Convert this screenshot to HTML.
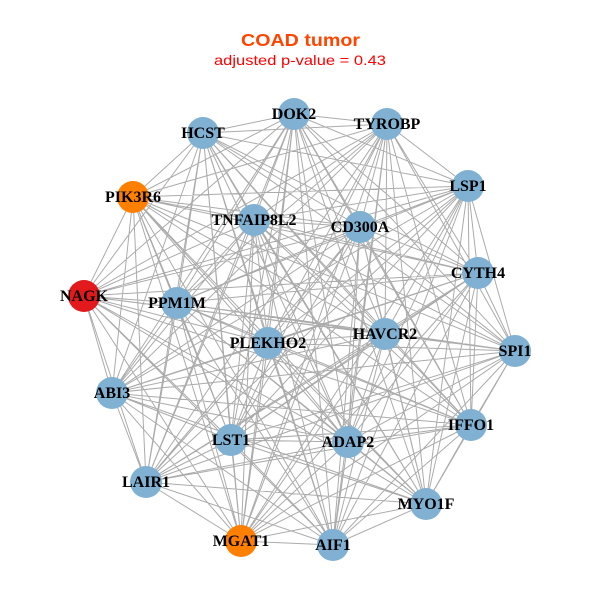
<!DOCTYPE html>
<html><head><meta charset="utf-8"><style>
html,body{margin:0;padding:0;background:#fff;}
svg{display:block;}
.l{font-family:"Liberation Serif",serif;font-weight:bold;font-size:16px;fill:#000;text-anchor:middle;}
</style></head><body>
<svg width="600" height="600" viewBox="0 0 600 600" xmlns="http://www.w3.org/2000/svg">
<rect width="600" height="600" fill="#fff"/>
<text x="300.5" y="46" font-family="Liberation Sans, sans-serif" font-weight="bold" font-size="17.5" fill="#FF4500" text-anchor="middle" textLength="119" lengthAdjust="spacingAndGlyphs">COAD tumor</text>
<text x="300" y="65" font-family="Liberation Sans, sans-serif" font-size="14" fill="#FF0000" text-anchor="middle" textLength="172" lengthAdjust="spacingAndGlyphs">adjusted p-value = 0.43</text>
<path fill="none" stroke="#ababab" stroke-width="1" d="
M203 133L294 114M203 133L387 124M203 133L468 186M203 133L360 227M203 133L478 273M203 133L133 197M203 133L254 220M203 133L84 296M203 133L177 303M203 133L268 343M203 133L385 334M203 133L515 351M203 133L112 393M203 133L231 440M203 133L146 482M203 133L348 442M203 133L471 425M203 133L426 504M203 133L241 541M203 133L333 545
M294 114L387 124M294 114L468 186M294 114L360 227M294 114L478 273M294 114L133 197M294 114L254 220M294 114L84 296M294 114L177 303M294 114L268 343M294 114L385 334M294 114L515 351M294 114L112 393M294 114L231 440M294 114L146 482M294 114L348 442M294 114L471 425M294 114L426 504M294 114L241 541M294 114L333 545
M387 124L468 186M387 124L360 227M387 124L478 273M387 124L133 197M387 124L254 220M387 124L84 296M387 124L177 303M387 124L268 343M387 124L385 334M387 124L515 351M387 124L112 393M387 124L231 440M387 124L146 482M387 124L348 442M387 124L471 425M387 124L426 504M387 124L241 541M387 124L333 545
M468 186L360 227M468 186L478 273M468 186L133 197M468 186L254 220M468 186L84 296M468 186L177 303M468 186L268 343M468 186L385 334M468 186L515 351M468 186L112 393M468 186L231 440M468 186L146 482M468 186L348 442M468 186L471 425M468 186L426 504M468 186L241 541M468 186L333 545
M360 227L478 273M360 227L133 197M360 227L254 220M360 227L84 296M360 227L177 303M360 227L268 343M360 227L385 334M360 227L515 351M360 227L112 393M360 227L231 440M360 227L146 482M360 227L348 442M360 227L471 425M360 227L426 504M360 227L241 541M360 227L333 545
M478 273L133 197M478 273L254 220M478 273L84 296M478 273L177 303M478 273L268 343M478 273L385 334M478 273L515 351M478 273L112 393M478 273L231 440M478 273L146 482M478 273L348 442M478 273L471 425M478 273L426 504M478 273L241 541M478 273L333 545
M133 197L254 220M133 197L84 296M133 197L177 303M133 197L268 343M133 197L385 334M133 197L515 351M133 197L112 393M133 197L231 440M133 197L146 482M133 197L348 442M133 197L471 425M133 197L426 504M133 197L241 541M133 197L333 545
M254 220L84 296M254 220L177 303M254 220L268 343M254 220L385 334M254 220L515 351M254 220L112 393M254 220L231 440M254 220L146 482M254 220L348 442M254 220L471 425M254 220L426 504M254 220L241 541M254 220L333 545
M84 296L177 303M84 296L268 343M84 296L385 334M84 296L515 351M84 296L112 393M84 296L231 440M84 296L146 482M84 296L348 442M84 296L471 425M84 296L426 504M84 296L241 541M84 296L333 545
M177 303L268 343M177 303L385 334M177 303L515 351M177 303L112 393M177 303L231 440M177 303L146 482M177 303L348 442M177 303L471 425M177 303L426 504M177 303L241 541M177 303L333 545
M268 343L385 334M268 343L515 351M268 343L112 393M268 343L231 440M268 343L146 482M268 343L348 442M268 343L471 425M268 343L426 504M268 343L241 541M268 343L333 545
M385 334L515 351M385 334L112 393M385 334L231 440M385 334L146 482M385 334L348 442M385 334L471 425M385 334L426 504M385 334L241 541M385 334L333 545
M515 351L112 393M515 351L231 440M515 351L146 482M515 351L348 442M515 351L471 425M515 351L426 504M515 351L241 541M515 351L333 545
M112 393L231 440M112 393L146 482M112 393L348 442M112 393L471 425M112 393L426 504M112 393L241 541M112 393L333 545
M231 440L146 482M231 440L348 442M231 440L471 425M231 440L426 504M231 440L241 541M231 440L333 545
M146 482L348 442M146 482L471 425M146 482L426 504M146 482L241 541M146 482L333 545
M348 442L471 425M348 442L426 504M348 442L241 541M348 442L333 545
M471 425L426 504M471 425L241 541M471 425L333 545
M426 504L241 541M426 504L333 545
M241 541L333 545"/>
<g fill="#80B1D3">
<circle cx="203" cy="133" r="16"/>
<circle cx="294" cy="114" r="16"/>
<circle cx="387" cy="124" r="16"/>
<circle cx="468" cy="186" r="16"/>
<circle cx="360" cy="227" r="16"/>
<circle cx="478" cy="273" r="16"/>
<circle cx="254" cy="220" r="16"/>
<circle cx="177" cy="303" r="16"/>
<circle cx="268" cy="343" r="16"/>
<circle cx="385" cy="334" r="16"/>
<circle cx="515" cy="351" r="16"/>
<circle cx="112" cy="393" r="16"/>
<circle cx="231" cy="440" r="16"/>
<circle cx="146" cy="482" r="16"/>
<circle cx="348" cy="442" r="16"/>
<circle cx="471" cy="425" r="16"/>
<circle cx="426" cy="504" r="16"/>
<circle cx="333" cy="545" r="16"/>
</g>
<circle cx="133" cy="197" r="16" fill="#FF7F00"/>
<circle cx="241" cy="541" r="16" fill="#FF7F00"/>
<circle cx="84" cy="296" r="16" fill="#E31A1C"/>
<text class="l" x="203" y="138">HCST</text>
<text class="l" x="294" y="119">DOK2</text>
<text class="l" x="387" y="129">TYROBP</text>
<text class="l" x="468" y="191">LSP1</text>
<text class="l" x="360" y="232">CD300A</text>
<text class="l" x="478" y="278">CYTH4</text>
<text class="l" x="133" y="202">PIK3R6</text>
<text class="l" x="254" y="225">TNFAIP8L2</text>
<text class="l" x="84" y="301">NAGK</text>
<text class="l" x="177" y="308">PPM1M</text>
<text class="l" x="268" y="348">PLEKHO2</text>
<text class="l" x="385" y="339">HAVCR2</text>
<text class="l" x="515" y="356">SPI1</text>
<text class="l" x="112" y="398">ABI3</text>
<text class="l" x="231" y="445">LST1</text>
<text class="l" x="146" y="487">LAIR1</text>
<text class="l" x="348" y="447">ADAP2</text>
<text class="l" x="471" y="430">IFFO1</text>
<text class="l" x="426" y="509">MYO1F</text>
<text class="l" x="241" y="546">MGAT1</text>
<text class="l" x="333" y="550">AIF1</text>
</svg>
</body></html>
